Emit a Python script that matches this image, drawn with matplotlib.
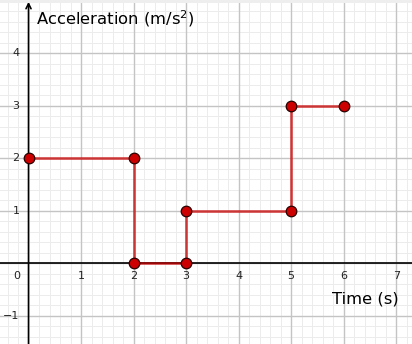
import numpy as np
import matplotlib.pyplot as plt
from matplotlib.patches import Rectangle

# Piecewise acceleration data (vertices of the step path)
time_s = [0, 2, 2, 3, 3, 5, 5, 6]
accel = [2, 2, 0, 0, 1, 1, 3, 3]

x_ticks = [1, 2, 3, 4, 5, 6, 7]
y_ticks = [-1, 1, 2, 3, 4]

fig = plt.figure(figsize=(4.12, 3.44), dpi=100)
ax = fig.add_axes([0, 0, 1, 1])
ax.set_xlim(-0.543, 7.3)
ax.set_ylim(-1.537, 5.015)
for s in ax.spines.values():
    s.set_visible(False)
ax.set_xticks([])
ax.set_yticks([])

# grid: major every 1, minor every 0.2
for v in np.arange(-0.4, 7.4, 0.2):
    ax.axvline(v, color='#ececec', lw=0.7, zorder=0)
for v in np.arange(-1.4, 5.0, 0.2):
    ax.axhline(v, color='#ececec', lw=0.7, zorder=0)
for v in range(1, 8):
    ax.axvline(v, color='#c4c4c4', lw=1.0, zorder=1)
for v in range(-1, 5):
    ax.axhline(v, color='#c4c4c4', lw=1.0, zorder=1)

# axes
ax.axhline(0, color='black', lw=1.2, zorder=2)
ax.annotate('', xy=(0, 4.98), xytext=(0, -1.6),
            arrowprops=dict(arrowstyle='->', color='black', lw=1.2,
                            mutation_scale=9, shrinkA=0, shrinkB=0), zorder=2)

# tick labels
for v in x_ticks:
    ax.text(v, -0.25, str(v), ha='center', va='center', fontsize=8, color='#222222')
for v in y_ticks:
    ax.text(-0.17, v, '\u2212' + str(-v) if v < 0 else str(v),
            ha='right', va='center', fontsize=8, color='#222222')
ax.text(-0.22, -0.25, '0', ha='center', va='center', fontsize=8, color='#222222')

# axis titles
ax.text(0.14, 4.54, 'Acceleration (m/s$^2$)', ha='left', va='baseline',
        fontsize=11.8, color='black')
ax.text(7.05, -0.77, 'Time (s)', ha='right', va='baseline',
        fontsize=11.8, color='black')

# data
ax.plot(time_s, accel, color='#cc0000', lw=1.9, alpha=0.72, zorder=3,
        solid_capstyle='butt')
ax.plot(time_s, accel, 'o', markersize=7.6, markerfacecolor='#cc0000',
        markeredgecolor='#2a0000', markeredgewidth=0.9, zorder=4)

fig.patches.append(Rectangle((0, 1 - 3 / 344), 1, 3 / 344, transform=fig.transFigure,
                             facecolor='#eeeeee', edgecolor='none', zorder=5))

fig.savefig('out.png', dpi=100)
